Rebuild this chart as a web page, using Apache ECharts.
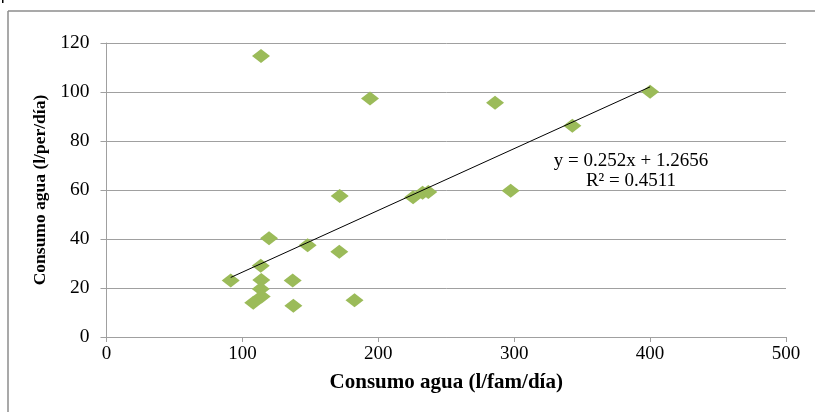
<!DOCTYPE html>
<html><head><meta charset="utf-8">
<script src="https://cdn.jsdelivr.net/npm/echarts@6/dist/echarts.min.js"></script>
<style>html,body{margin:0;padding:0;background:#fff}#c{width:815px;height:412px}</style>
</head><body><div id="c"></div>
<script>
// Data
const xValues = [113.7, 193.9, 285.9, 400.0, 342.8, 297.4, 171.6, 225.6, 232.6, 236.8, 119.6, 148.0, 171.3, 113.5, 91.4, 113.9, 137.0, 113.5, 114.2, 108.0, 137.5, 182.5];
const yValues = [114.7, 97.3, 95.6, 100.1, 86.2, 59.7, 57.6, 57.0, 58.9, 59.2, 40.3, 37.5, 34.8, 29.1, 23.1, 23.3, 23.1, 19.6, 16.5, 14.0, 12.8, 15.0];
const trendX = [91.4, 400.0];
const trendY = [24.3, 102.1];
const xTicks = [0, 100, 200, 300, 400, 500];
const yTicks = [0, 20, 40, 60, 80, 100, 120];
const equationLines = ['y = 0.252x + 1.2656', 'R\u00B2 = 0.4511'];
const xTitle = 'Consumo agua (l/fam/d\u00EDa)';
const yTitle = 'Consumo agua (l/per/d\u00EDa)';

const points = xValues.map((x, i) => [x, yValues[i]]);
const trend = trendX.map((x, i) => [x, trendY[i]]);
const serif = 'Liberation Serif';
const axisGray = '#a0a0a0';

const chart = echarts.init(document.getElementById('c'), null, {renderer: 'canvas'});
chart.setOption({
  animation: false,
  backgroundColor: '#fff',
  grid: {left: 106.5, right: 29, top: 43, bottom: 75, containLabel: false},
  xAxis: {
    type: 'value',
    min: xTicks[0], max: xTicks[xTicks.length - 1], interval: xTicks[1] - xTicks[0],
    name: xTitle, nameLocation: 'middle', nameGap: 35,
    nameTextStyle: {fontFamily: serif, fontWeight: 'bold', fontSize: 21, color: '#000'},
    axisLine: {show: true, lineStyle: {color: axisGray, width: 1}},
    axisTick: {show: true, inside: false, length: 5, lineStyle: {color: axisGray}},
    axisLabel: {fontFamily: serif, fontSize: 19, color: '#000', margin: 8},
    splitLine: {show: false}
  },
  yAxis: {
    type: 'value',
    min: yTicks[0], max: yTicks[yTicks.length - 1], interval: yTicks[1] - yTicks[0],
    name: yTitle, nameLocation: 'middle', nameGap: 57, nameRotate: 90,
    nameTextStyle: {fontFamily: serif, fontWeight: 'bold', fontSize: 17.5, color: '#000'},
    axisLine: {show: true, lineStyle: {color: axisGray, width: 1}},
    axisTick: {show: true, inside: false, length: 6, lineStyle: {color: axisGray}},
    axisLabel: {fontFamily: serif, fontSize: 19.5, color: '#000', margin: 17},
    splitLine: {show: true, lineStyle: {color: axisGray, width: 1}}
  },
  series: [
    {
      type: 'scatter', data: points, symbol: 'diamond', symbolSize: [18, 14],
      itemStyle: {color: '#9BBB59', opacity: 1}, z: 2
    },
    {
      type: 'line', data: trend, symbol: 'none', silent: true,
      lineStyle: {color: '#000', width: 1}, z: 3
    }
  ],
  graphic: [
    {type: 'line', shape: {x1: 8, y1: 11, x2: 815, y2: 11}, style: {stroke: '#8c8c8c', lineWidth: 1.5}},
    {type: 'line', shape: {x1: 8, y1: 11, x2: 8, y2: 412}, style: {stroke: '#8c8c8c', lineWidth: 1.5}},
    {type: 'rect', shape: {x: 2, y: 0, width: 1.5, height: 3}, style: {fill: '#000'}},
    {type: 'text', x: 631, y: 161, style: {text: equationLines[0], font: '19px "Liberation Serif"', fill: '#000', align: 'center', verticalAlign: 'middle'}},
    {type: 'text', x: 631, y: 181, style: {text: equationLines[1], font: '19px "Liberation Serif"', fill: '#000', align: 'center', verticalAlign: 'middle'}}
  ]
});
</script>
</body></html>
